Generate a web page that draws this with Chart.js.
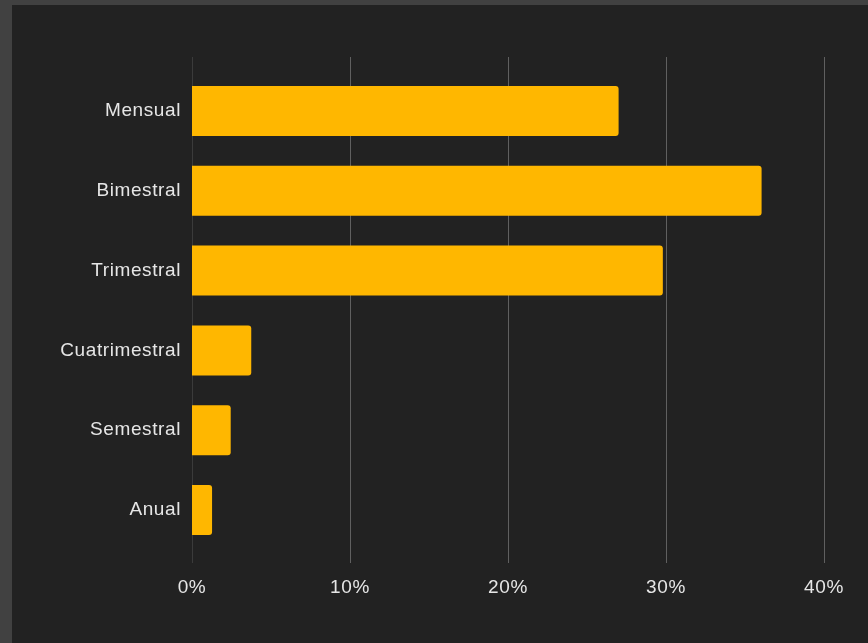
<!DOCTYPE html>
<html>
<head>
<meta charset="utf-8">
<script src="https://cdn.jsdelivr.net/npm/chart.js@4"></script>
<style>
    html, body { margin: 0; padding: 0; background: #414141; overflow: hidden; }
    #wrap { position: absolute; left: 12px; top: 5px; width: 856px; height: 638px; background: #222222; }
</style>
</head>
<body>
<div id="wrap"><canvas id="chart"></canvas></div>
<script>
    "use strict";

    const categories = ['Mensual', 'Bimestral', 'Trimestral', 'Cuatrimestral', 'Semestral', 'Anual'];
    const shares = [27.0, 36.05, 29.8, 3.75, 2.45, 1.27];
    const tickValues = [0, 10, 20, 30, 40];

    const textColor = '#e6e6e6';
    const barColor = '#ffb700';
    const labelFont = { family: "'Liberation Sans', Arial, sans-serif", size: 19 };

    // the labels in the original are slightly tracked out
    const tracking = {
        id: 'tracking',
        beforeLayout: function (chart) { chart.ctx.letterSpacing = '0.6px'; },
        beforeDraw: function (chart) { chart.ctx.letterSpacing = '0.6px'; }
    };

    // vertical grid lines run a little past the plot area, top and bottom
    const longGrid = {
        id: 'longGrid',
        beforeDatasetsDraw: function (chart) {
            const ctx = chart.ctx, area = chart.chartArea, x = chart.scales.x;
            ctx.save();
            ctx.lineWidth = 1;
            x.ticks.forEach(function (t) {
                const px = Math.round(x.getPixelForValue(t.value)) + 0.5;
                ctx.strokeStyle = t.value === 0 ? '#3b3b3b' : '#606060';
                ctx.beginPath();
                ctx.moveTo(px, area.top - 14);
                ctx.lineTo(px, area.bottom + 13);
                ctx.stroke();
            });
            ctx.restore();
        }
    };

    new Chart(document.getElementById('chart').getContext('2d'), {
        type: 'bar',
        data: {
            labels: categories,
            datasets: [{
                data: shares,
                backgroundColor: barColor,
                borderWidth: 0,
                borderRadius: 3,
                barPercentage: 1,
                categoryPercentage: 0.627
            }]
        },
        plugins: [tracking, longGrid],
        options: {
            indexAxis: 'y',
            responsive: true,
            maintainAspectRatio: false,
            animation: false,
            layout: { padding: { top: 66, right: 44, bottom: 0, left: 0 } },
            plugins: { legend: { display: false }, tooltip: { enabled: false } },
            scales: {
                x: {
                    min: 0,
                    max: 40,
                    afterBuildTicks: function (scale) {
                        scale.ticks = tickValues.map(v => ({ value: v }));
                    },
                    afterFit: function (scale) {
                        scale.height = 93;
                        scale.paddingLeft = 0;
                        scale.paddingRight = 0;
                    },
                    grid: { display: false, drawTicks: false },
                    border: { display: false },
                    ticks: {
                        padding: 26,
                        color: textColor,
                        font: labelFont,
                        callback: v => v + '%'
                    }
                },
                y: {
                    afterFit: function (scale) { scale.width = 180; },
                    grid: { display: false, drawTicks: false },
                    border: { display: false },
                    ticks: {
                        padding: 11,
                        color: textColor,
                        font: labelFont
                    }
                }
            }
        }
    });
</script>
</body>
</html>
